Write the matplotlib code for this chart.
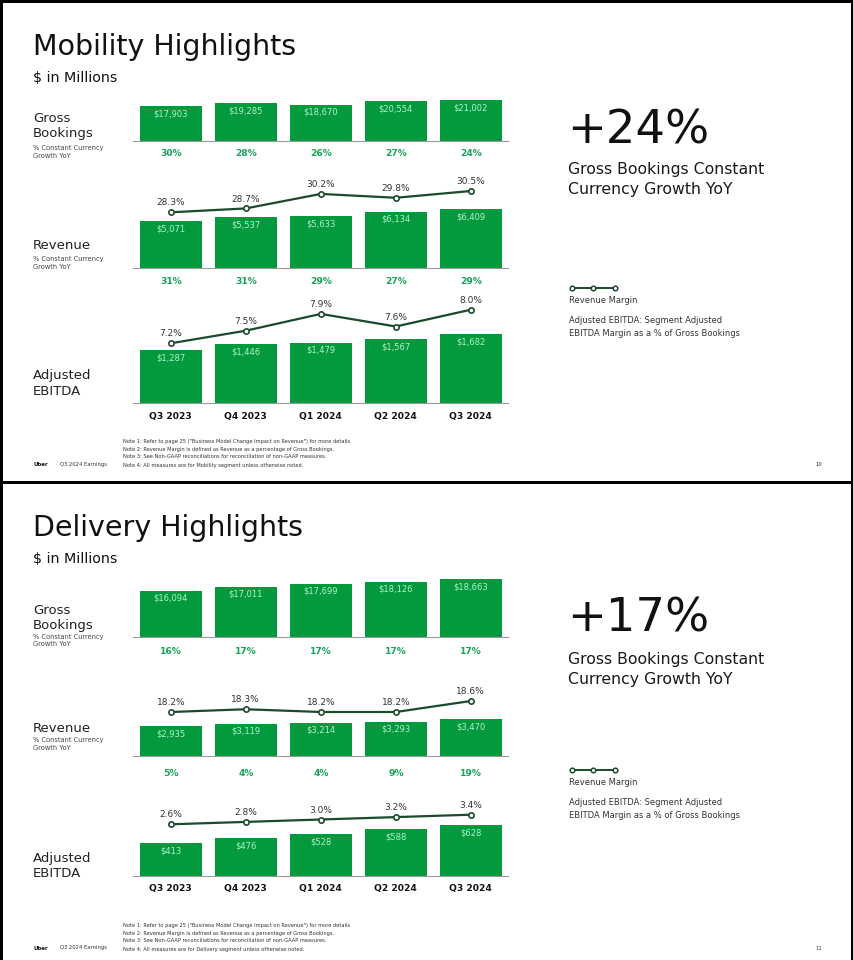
import matplotlib
matplotlib.use("Agg")
import matplotlib.pyplot as plt
from matplotlib.patches import Rectangle
from matplotlib.lines import Line2D

# dados (US$ milhões)
quarters = ["Q3 2023", "Q4 2023", "Q1 2024", "Q2 2024", "Q3 2024"]

mob_gb = [17903, 19285, 18670, 20554, 21002]
mob_gb_growth = [30, 28, 26, 27, 24]
mob_rev = [5071, 5537, 5633, 6134, 6409]
mob_rev_growth = [31, 31, 29, 27, 29]
mob_rev_margin = [28.3, 28.7, 30.2, 29.8, 30.5]
mob_ebitda = [1287, 1446, 1479, 1567, 1682]
mob_ebitda_margin = [7.2, 7.5, 7.9, 7.6, 8.0]
mob_headline = "+24%"

del_gb = [16094, 17011, 17699, 18126, 18663]
del_gb_growth = [16, 17, 17, 17, 17]
del_rev = [2935, 3119, 3214, 3293, 3470]
del_rev_growth = [5, 4, 4, 9, 19]
del_rev_margin = [18.2, 18.3, 18.2, 18.2, 18.6]
del_ebitda = [413, 476, 528, 588, 628]
del_ebitda_margin = [2.6, 2.8, 3.0, 3.2, 3.4]
del_headline = "+17%"

notes_common = [
    'Note 1: Refer to page 25 ("Business Model Change Impact on Revenue") for more details',
    "Note 2: Revenue Margin is defined as Revenue as a percentage of Gross Bookings.",
    "Note 3: See Non-GAAP reconciliations for reconciliation of non-GAAP measures.",
]

GREEN = "#039a3e"
VAL = "#b2f1cc"
PCT = "#17a35a"
LINE = "#1c4a2c"

W, H = 854, 960
X0, X1 = 133.3, 508.3

fig = plt.figure(figsize=(W / 100, H / 100), dpi=100)
fig.patch.set_facecolor("white")


def put(x, y, s, size, **kw):
    kw.setdefault("va", "baseline")
    kw.setdefault("color", "#111111")
    fig.text(x / W, 1 - y / H, s, fontsize=size, **kw)


def make_axes(top, bottom, lo, k):
    ax = fig.add_axes([X0 / W, 1 - bottom / H, (X1 - X0) / W, (bottom - top) / H])
    ax.set_xlim(-0.5, 4.5)
    ax.set_ylim(lo, lo + (bottom - top) / k)
    ax.patch.set_visible(False)
    for s in ax.spines.values():
        s.set_visible(False)
    ax.set_xticks([])
    ax.set_yticks([])
    return ax


def bar_row(values, base, lo, k, below, below_gap, bold_green=True):
    ax = make_axes(base - 110, base, lo, k)
    x = range(len(values))
    ax.bar(x, values, width=0.833, color=GREEN, zorder=2)
    ax.spines["bottom"].set_visible(True)
    ax.spines["bottom"].set_color("#9a9a9a")
    ax.spines["bottom"].set_linewidth(0.8)
    for i, v in enumerate(values):
        ax.annotate(f"${v:,}", (i, v), xytext=(0, -5.6), textcoords="offset points",
                    ha="center", va="center", fontsize=6, color=VAL, zorder=3)
    for i, t in enumerate(below):
        ax.annotate(t, (i, lo), xytext=(0, -below_gap * 0.72), textcoords="offset points",
                    ha="center", va="center", fontsize=6.6, fontweight="bold",
                    color=PCT if bold_green else "#111111", annotation_clip=False)
    return ax


def margin_line(values, base, ref_px, k):
    lo = values[0] - (base - ref_px) / k
    ax = make_axes(base - 110, base, lo, k)
    ax.plot(range(len(values)), values, color=LINE, lw=1.6, marker="o", ms=3.8,
            mfc="white", mec=LINE, mew=1.2, zorder=4)
    for i, v in enumerate(values):
        ax.annotate(f"{v:.1f}%", (i, v), xytext=(0, 6.7), textcoords="offset points",
                    ha="center", va="center", fontsize=6.5, color="#333333")


def panel(dy, title, headline, gb, gbg, rev, revg, revm, eb, ebm, lay, segment, page):
    put(33, 54.6 + dy, title, 20.5)
    put(33, 81.7 + dy, "$ in Millions", 10.3)

    # rótulos das linhas
    sub = "#444444"
    put(33, lay["gross"], "Gross", 9.5, color="#222222")
    put(33, lay["gross"] + 15.6, "Bookings", 9.5, color="#222222")
    put(33, lay["gross_sub"], "% Constant Currency", 4.8, color=sub)
    put(33, lay["gross_sub"] + 7.5, "Growth YoY", 4.8, color=sub)
    put(33, lay["rev"], "Revenue", 9.5, color="#222222")
    put(33, lay["rev_sub"], "% Constant Currency", 4.8, color=sub)
    put(33, lay["rev_sub"] + 7.5, "Growth YoY", 4.8, color=sub)
    put(33, lay["adj"], "Adjusted", 9.5, color="#222222")
    put(33, lay["adj"] + 15.3, "EBITDA", 9.5, color="#222222")

    # barras + linhas de margem
    bar_row(gb, *lay["gb_scale"], [f"{g}%" for g in gbg], lay["gb_gap"])
    bar_row(rev, *lay["rev_scale"], [f"{g}%" for g in revg], lay["rev_gap"])
    margin_line(revm, lay["rev_scale"][0], *lay["revm"])
    bar_row(eb, *lay["eb_scale"], quarters, lay["eb_gap"], bold_green=False)
    margin_line(ebm, lay["eb_scale"][0], *lay["ebm"])

    # lado direito
    put(567, lay["head"], headline, 33.5)
    put(568, lay["head_sub"], "Gross Bookings Constant", 11.3, color="#1a1a1a")
    put(568, lay["head_sub"] + 20.3, "Currency Growth YoY", 11.3, color="#1a1a1a")
    ly = lay["legend"]
    fig.add_artist(Line2D([571.7 / W, 593.3 / W, 615 / W], [1 - ly / H] * 3, color=LINE,
                          lw=1.4, marker="o", ms=3.3, mfc="white", mec=LINE, mew=1.1))
    put(569, ly + 12.7, "Revenue Margin", 6, va="center", color="#333333")
    put(569, ly + 32.7, "Adjusted EBITDA: Segment Adjusted", 6, va="center", color="#333333")
    put(569, ly + 45.3, "EBITDA Margin as a % of Gross Bookings", 6, va="center", color="#333333")

    # rodapé
    nts = notes_common + [f"Note 4: All measures are for {segment} segment unless otherwise noted."]
    for j, n in enumerate(nts):
        put(123, lay["notes"] + 8 * j, n, 3.7, va="center", color="#333333")
    put(33, lay["notes"] + 23, "Uber", 3.9, va="center", fontweight="bold")
    put(60, lay["notes"] + 23, "Q3 2024 Earnings", 3.8, va="center", color="#333333")
    put(815, lay["notes"] + 23, page, 3.8, va="center", color="#333333")


mob_layout = dict(
    gross=121.7, gross_sub=150, rev=249, rev_sub=261.5, adj=379.3,
    gb_scale=(140.7, 0, 0.001938), gb_gap=13.3,
    rev_scale=(268.3, 0, 0.00925), rev_gap=12.7,
    eb_scale=(402.7, 0, 0.04067), eb_gap=13.6,
    revm=(212.3, 9.68), ebm=(343.3, 42.0),
    head=143, head_sub=174, legend=288, notes=441,
)
del_layout = dict(
    gross=613.5, gross_sub=639, rev=732.3, rev_sub=742, adj=861.7,
    gb_scale=(636.7, 5734, 0.00444), gb_gap=15,
    rev_scale=(756, 539, 0.01252), rev_gap=17.3,
    eb_scale=(875.7, 27, 0.0837), eb_gap=13,
    revm=(712, 27.5), ebm=(824.3, 12.0),
    head=631.7, head_sub=664, legend=770, notes=925,
)

panel(0, "Mobility Highlights", mob_headline, mob_gb, mob_gb_growth, mob_rev,
      mob_rev_growth, mob_rev_margin, mob_ebitda, mob_ebitda_margin, mob_layout, "Mobility", "10")
panel(481.5, "Delivery Highlights", del_headline, del_gb, del_gb_growth, del_rev,
      del_rev_growth, del_rev_margin, del_ebitda, del_ebitda_margin, del_layout, "Delivery", "11")

# bordas pretas dos slides
for (x, y, w, h) in [(0, 0, 3, 960), (0, 0, 854, 2.5), (851, 0, 3, 960), (0, 480.7, 854, 3.8)]:
    fig.add_artist(Rectangle((x / W, 1 - (y + h) / H), w / W, h / H,
                             transform=fig.transFigure, color="black", lw=0))

fig.savefig("out.png", dpi=100, facecolor="white")
